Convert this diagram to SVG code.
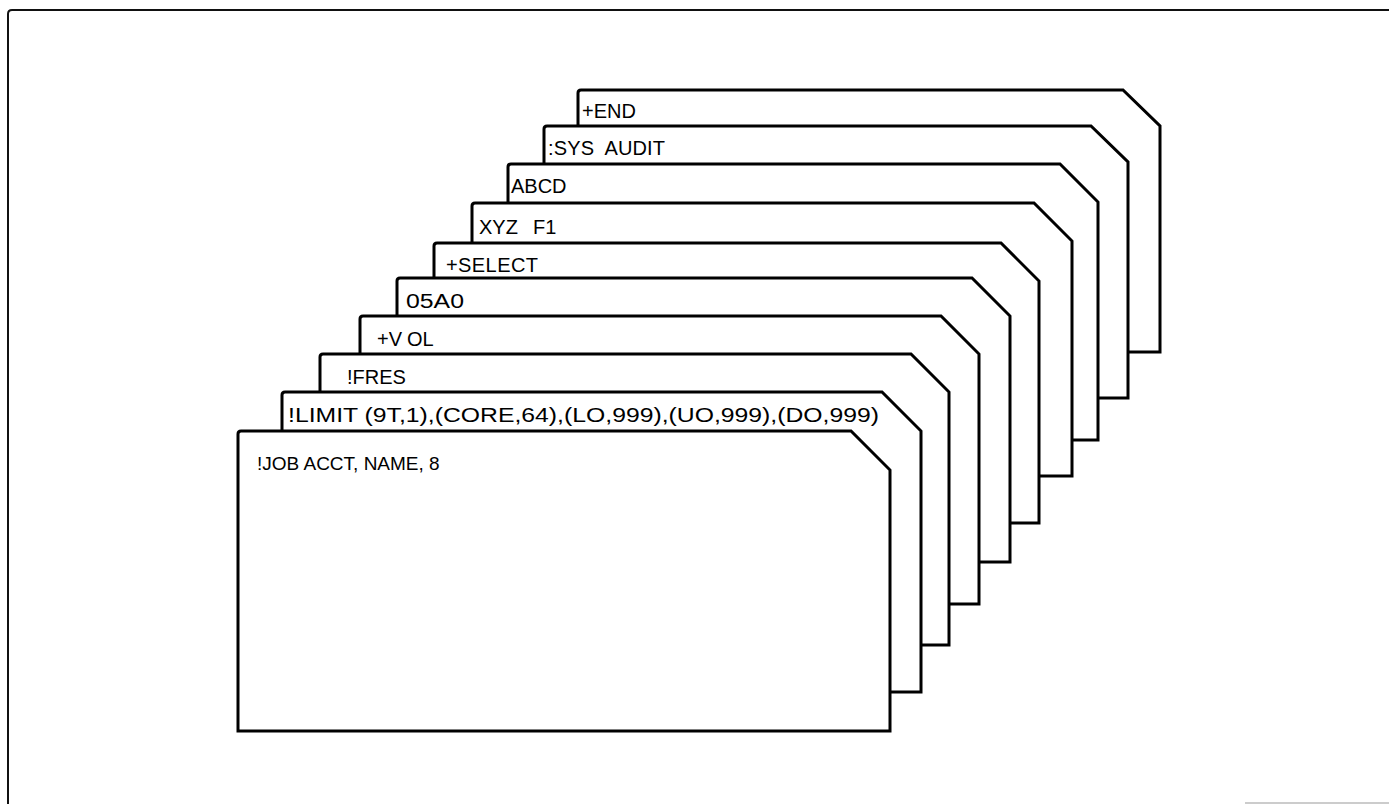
<svg xmlns="http://www.w3.org/2000/svg" width="1389" height="804" viewBox="0 0 1389 804">
<style>
.card{fill:#fff;stroke:#000;stroke-width:3;stroke-linejoin:miter}
.t{font-family:"Liberation Sans",Arial,sans-serif;font-size:20px;fill:#000}
.frame{fill:none;stroke:#111;stroke-width:2}
</style>
<rect width="1389" height="804" fill="#fff"/>
<g id="frame">
<path class="frame" d="M8,804 L8,14 Q8,10 12,10 L1389,10"/>
<line x1="1245" y1="803" x2="1389" y2="803" stroke="#bbb" stroke-width="1.5"/>
</g>
<g id="card-end">
<path class="card" d="M578,352 L578,93 Q578,90 581,90 L1123,90 L1160,126 L1160,352 Z"/>
<text class="t" x="582" y="118">+END</text>
</g>
<g id="card-sys">
<path class="card" d="M544,398 L544,129 Q544,126 547,126 L1091,126 L1128,162 L1128,398 Z"/>
<text class="t" x="548" y="155" textLength="117" xml:space="preserve">:SYS  AUDIT</text>
</g>
<g id="card-abcd">
<path class="card" d="M508,440 L508,167 Q508,164 511,164 L1060,164 L1098,202 L1098,440 Z"/>
<text class="t" x="511" y="193">ABCD</text>
</g>
<g id="card-xyz">
<path class="card" d="M472,476 L472,206 Q472,203 475,203 L1034,203 L1072,241 L1072,476 Z"/>
<text class="t" x="479" y="234" xml:space="preserve">XYZ  <tspan x="533">F1</tspan></text>
</g>
<g id="card-select">
<path class="card" d="M434,523 L434,246 Q434,243 437,243 L1001,243 L1039,281 L1039,523 Z"/>
<text class="t" x="446" y="272" textLength="92">+SELECT</text>
</g>
<g id="card-05a0">
<path class="card" d="M397,562 L397,281 Q397,278 400,278 L972,278 L1010,316 L1010,562 Z"/>
<text class="t" x="406" y="308" textLength="58" lengthAdjust="spacingAndGlyphs">05A0</text>
</g>
<g id="card-vol">
<path class="card" d="M360,604 L360,319 Q360,316 363,316 L941,316 L979,354 L979,604 Z"/>
<text class="t" x="377" y="346">+V<tspan x="407">OL</tspan></text>
</g>
<g id="card-fres">
<path class="card" d="M320,645 L320,357 Q320,354 323,354 L911,354 L949,392 L949,645 Z"/>
<text class="t" x="347" y="384">!FRES</text>
</g>
<g id="card-limit">
<path class="card" d="M282,692 L282,395 Q282,392 285,392 L882,392 L921,431 L921,692 Z"/>
<text class="t" x="288" y="422" textLength="591" lengthAdjust="spacingAndGlyphs">!LIMIT (9T,1),(CORE,64),(LO,999),(UO,999),(DO,999)</text>
</g>
<g id="card-job">
<path class="card" d="M238,731 L238,434 Q238,431 241,431 L851,431 L890,470 L890,731 Z"/>
<text class="t" x="257" y="470" style="font-size:19px">!JOB ACCT, NAME, 8</text>
</g>
</svg>
